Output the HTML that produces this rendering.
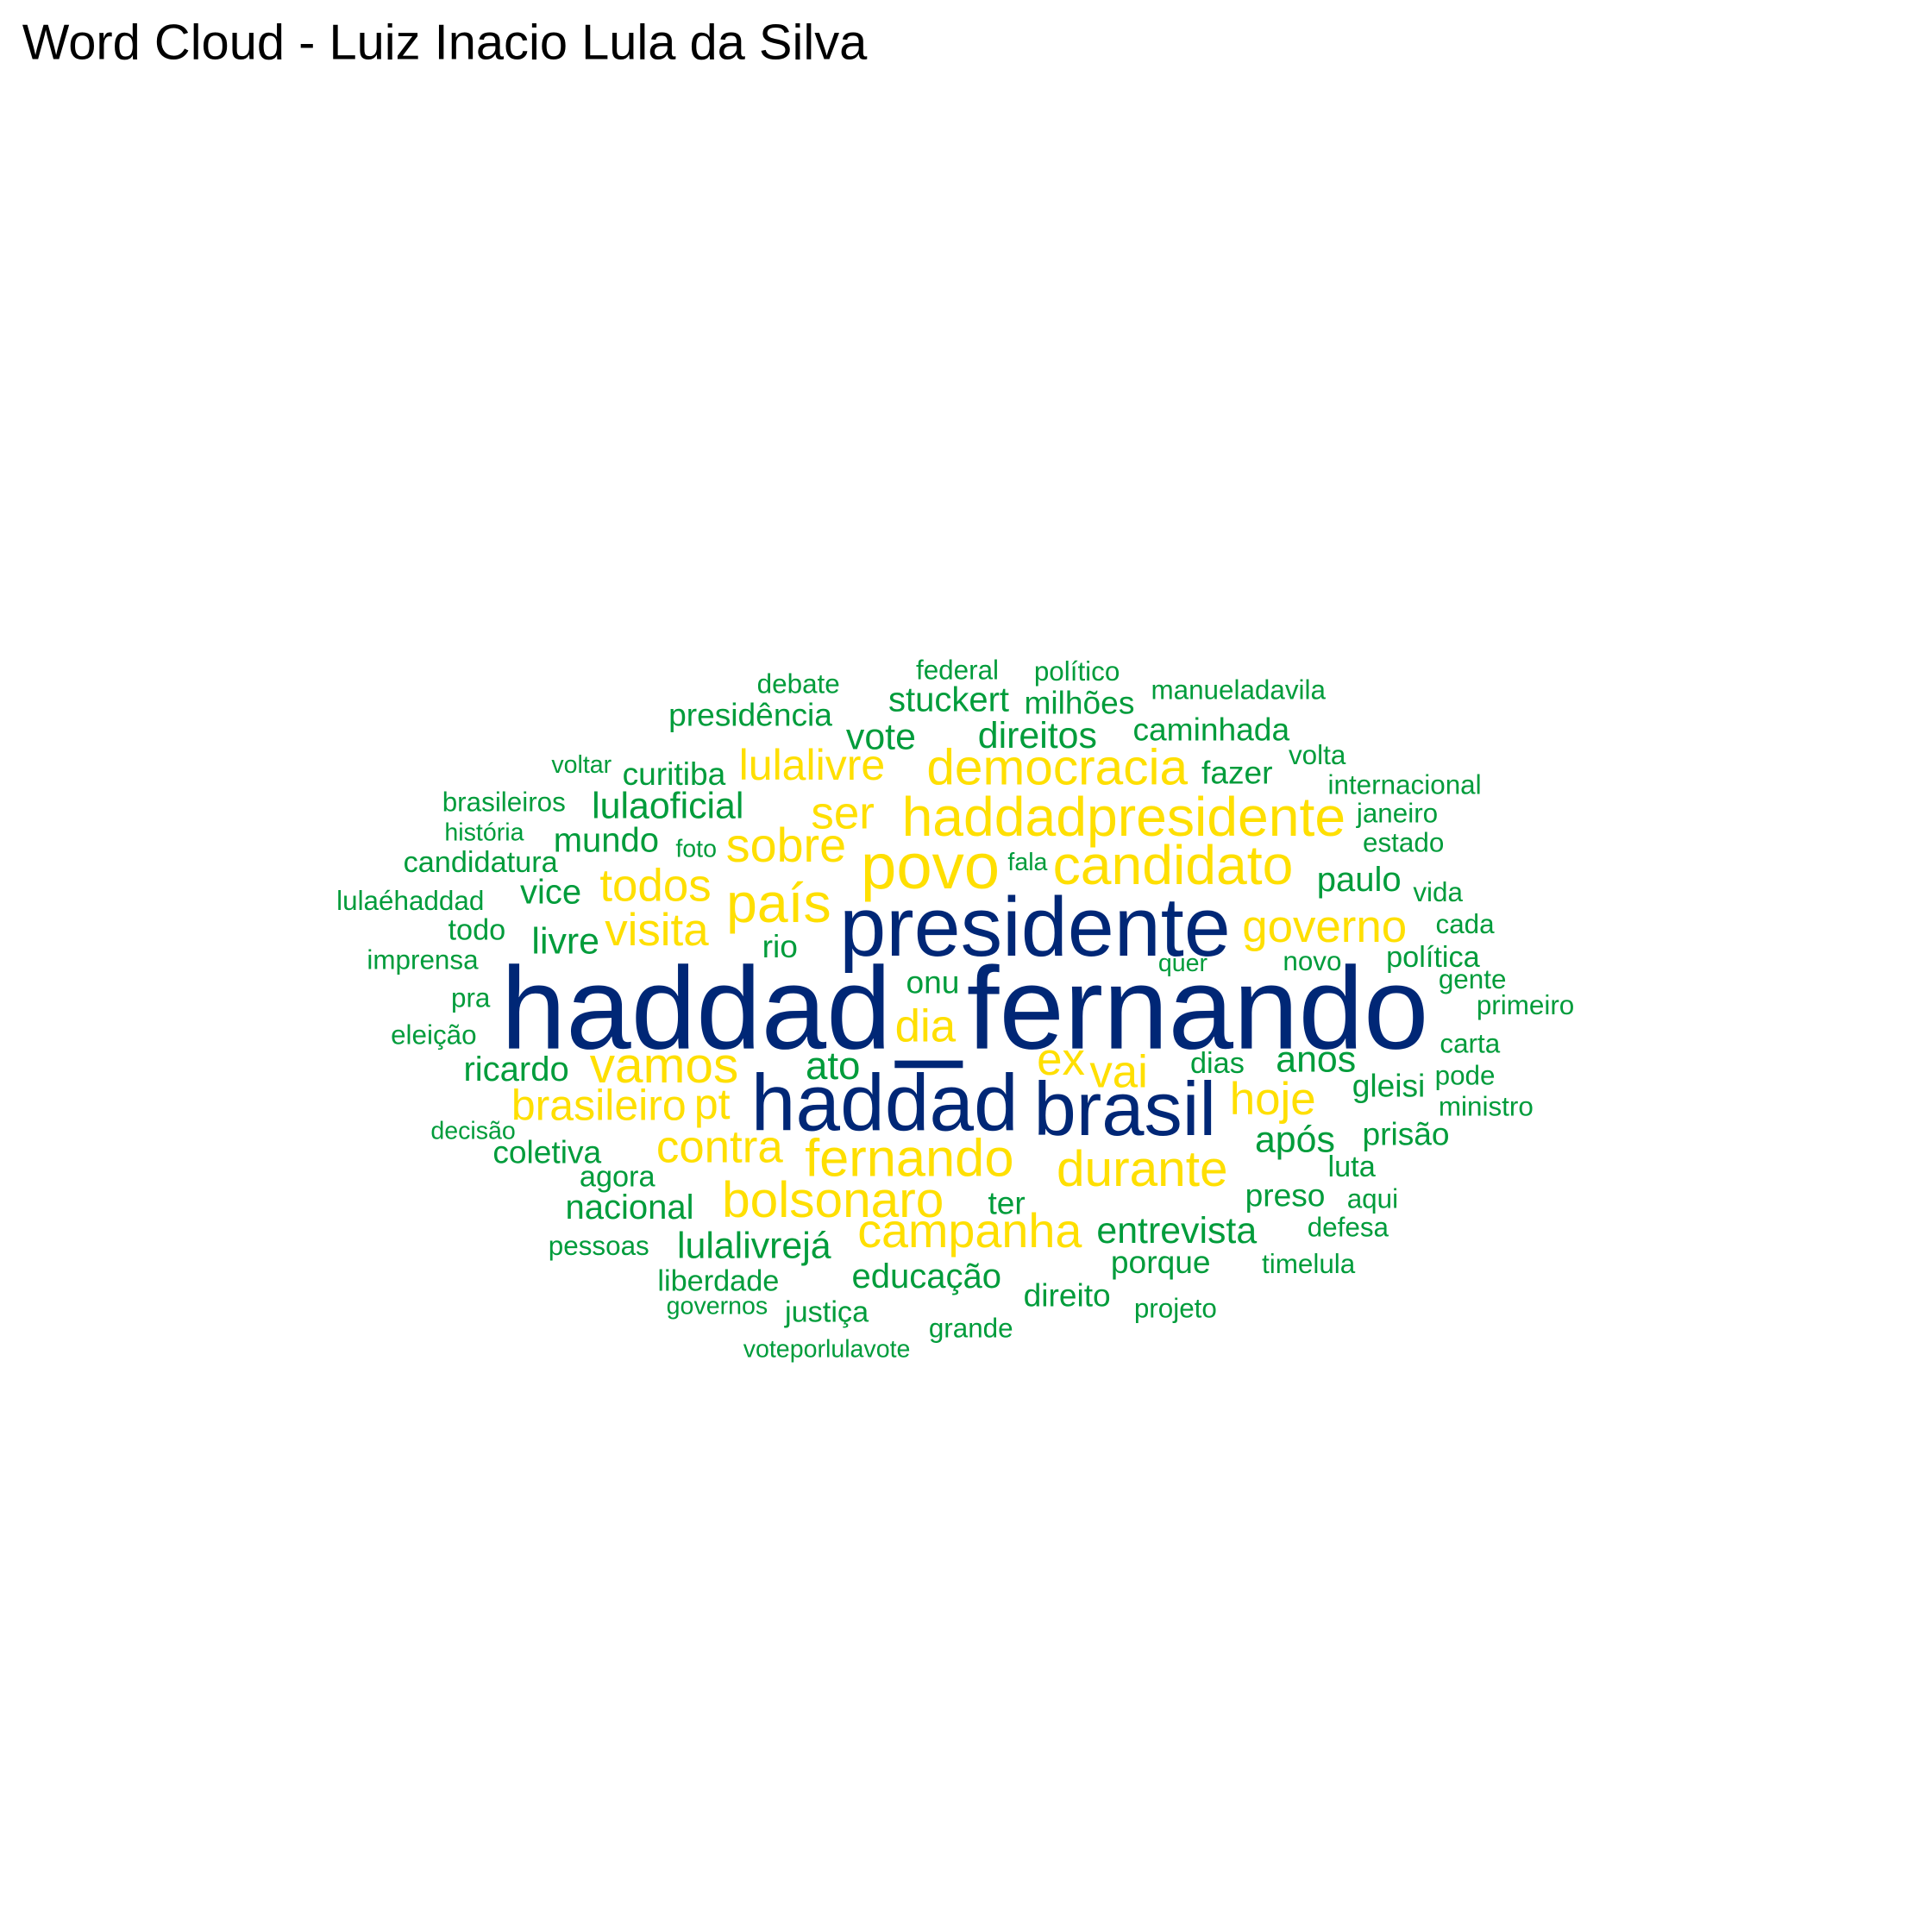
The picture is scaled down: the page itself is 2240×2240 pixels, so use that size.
<!DOCTYPE html>
<html><head><meta charset="utf-8"><style>
html,body{margin:0;padding:0;background:#fff;}
svg{display:block;}
text{font-family:"Liberation Sans",Arial,sans-serif;}
</style></head>
<body>
<svg id="chart" width="2240" height="2240" viewBox="0 0 1568 1568" xmlns="http://www.w3.org/2000/svg">
<rect width="1568" height="1568" fill="#fff"/>
<text x="18" y="48" font-size="40.5" fill="#000">Word Cloud - Luiz Inacio Lula da Silva</text>
<g id="words"></g>
</svg>
<script>
const words = ["haddad","fernando","presidente","haddad","brasil","_","povo","país","haddadpresidente","candidato","democracia","lulalivre","ser","sobre","todos","visita","governo","dia","vamos","ex","vai","hoje","brasileiro","pt","contra","fernando","durante","bolsonaro","campanha",
"debate","federal","político","manueladavila","presidência","stuckert","milhões","vote","direitos","caminhada","voltar","curitiba","fazer","volta","internacional","brasileiros","lulaoficial","janeiro","história","mundo","foto","fala","estado","candidatura","paulo","vice","vida","lulaéhaddad","todo","livre","rio","cada","imprensa","quer","novo","política","onu","gente","pra","primeiro","eleição","ricardo","ato","dias","anos","carta","gleisi","pode","ministro","decisão","coletiva","após","prisão","luta","agora","ter","preso","aqui","nacional","entrevista","defesa","pessoas","lulalivrejá","porque","timelula","liberdade","educação","direito","governos","justiça","projeto","grande","voteporlulavote"];
const freqs = [95,95,68,65,62,95,52,45,45,45,41,35,37,39,37,37,37,37,41,37,37,37,35,35,37,43,41,41,39,
22,22,22,22,26,28,26,30,30,26,20,26,26,22,22,22,30,22,20,28,20,20,22,24,28,28,22,22,24,30,26,22,22,20,22,24,26,22,22,22,22,28,32,24,30,22,26,22,22,20,26,30,26,24,24,26,26,22,28,30,22,22,30,26,22,24,28,26,20,24,22,22,20];
const colors = ["#002776","#002776","#002776","#002776","#002776","#002776","#FFDF00","#FFDF00","#FFDF00","#FFDF00","#FFDF00","#FFDF00","#FFDF00","#FFDF00","#FFDF00","#FFDF00","#FFDF00","#FFDF00","#FFDF00","#FFDF00","#FFDF00","#FFDF00","#FFDF00","#FFDF00","#FFDF00","#FFDF00","#FFDF00","#FFDF00","#FFDF00"];
const layoutX = [565,972,840,718,913,754,755,632,912,952,858,659,684,638,532,533,1075,751,539,861,908,1033,486,578,584,738,927,676,787,
648,777,874,1005,609,770,876,715,842,983,472,547,1004,1069,1140,409,542,1134,393,492,565,834,1139,390,1103,447,1167,333,387,459,633,1189,343,960,1065,1163,757,1195,382,1238,352,419,676,988,1068,1193,1127,1189,1206,384,444,1051,1141,1097,501,817,1043,1114,511,955,1094,486,612,942,1062,583,752,866,582,671,954,788,671];
const layoutY = [818,818,752,895,900,815,703,733,663,702,623,621,660,686,719,755,752,833,865,860,870,892,897,896,931,940,949,974,999,
555,544,545,560,580,568,570,598,597,592,621,628,627,613,637,651,654,660,676,682,689,700,684,700,714,724,724,731,755,764,768,750,779,782,780,777,797,795,810,816,840,868,865,863,860,847,881,873,898,918,935,925,920,947,955,976,970,973,980,999,996,1011,1011,1024,1026,1040,1036,1051,1060,1065,1062,1078,1095];
const g = document.getElementById('words');
for (let i = 0; i < words.length; i++) {
  const t = document.createElementNS('http://www.w3.org/2000/svg', 'text');
  t.setAttribute('x', layoutX[i]);
  t.setAttribute('y', layoutY[i]);
  t.setAttribute('font-size', freqs[i]);
  t.setAttribute('fill', colors[i] || '#009C3B');
  t.setAttribute('text-anchor', 'middle');
  t.setAttribute('dominant-baseline', 'central');
  t.textContent = words[i];
  
  
  g.appendChild(t);
}
</script>
</body></html>
